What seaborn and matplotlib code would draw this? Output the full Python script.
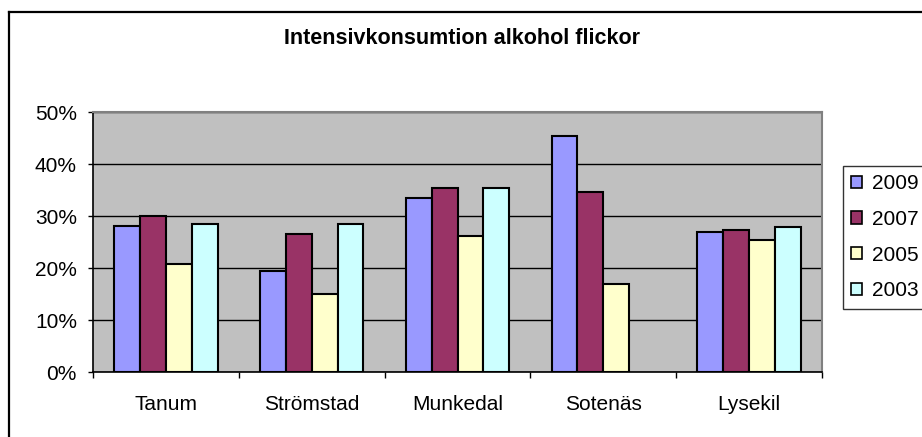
import numpy as np
import pandas as pd
import matplotlib
matplotlib.use("Agg")
import matplotlib.pyplot as plt
import seaborn as sns
from matplotlib.patches import Patch
from matplotlib.lines import Line2D
from matplotlib.ticker import FixedLocator, PercentFormatter

# ---- data ----
categories = ["Tanum", "Strömstad", "Munkedal", "Sotenäs", "Lysekil"]
years = ["2009", "2007", "2005", "2003"]
v2009 = [28.1, 19.5, 33.5, 45.4, 26.9]
v2007 = [30.0, 26.5, 35.4, 34.6, 27.3]
v2005 = [20.8, 15.0, 26.2, 17.0, 25.4]
v2003 = [28.5, 28.5, 35.4, np.nan, 27.8]
colors = ["#9999FF", "#993366", "#FFFFCC", "#CCFFFF"]
title = "Intensivkonsumtion alkohol flickor"
yticks = [0, 10, 20, 30, 40, 50]

series = {"2009": v2009, "2007": v2007, "2005": v2005, "2003": v2003}
rows = []
for yr in years:
    for cat, val in zip(categories, series[yr]):
        rows.append({"Kommun": cat, "År": yr, "Andel": val})
df = pd.DataFrame(rows).dropna()

plt.rcParams["font.family"] = ["Liberation Sans", "DejaVu Sans"]
FS = 15

W, H = 922, 437
fig = plt.figure(figsize=(W / 100, H / 100), dpi=100)
fig.patch.set_facecolor("white")

L, R, T, B = 93, 822, 112, 372
ax = fig.add_axes([L / W, 1 - B / H, (R - L) / W, (B - T) / H])
ax.set_facecolor("#C0C0C0")

sns.barplot(data=df, x="Kommun", y="Andel", hue="År", order=categories,
            hue_order=years, palette=colors, width=0.71, saturation=1,
            edgecolor="black", linewidth=1.5, errorbar=None, legend=False,
            ax=ax, zorder=3)

ax.set_ylim(0, 50)
ax.set_xlim(-0.5, len(categories) - 0.5)
ax.yaxis.set_major_locator(FixedLocator(yticks))
ax.yaxis.set_major_formatter(PercentFormatter(decimals=0))
ax.yaxis.grid(True, color="black", linewidth=1, zorder=1)
ax.set_axisbelow(True)
ax.set_xlabel("")
ax.set_ylabel("")

ax.tick_params(axis="y", direction="out", length=3.6, width=1, color="black",
               pad=8, labelsize=FS)
ax.tick_params(axis="x", which="major", length=0, pad=16.5, labelsize=FS)
ax.xaxis.set_minor_locator(FixedLocator(np.arange(-0.5, len(categories), 1.0)))
ax.tick_params(axis="x", which="minor", direction="out", length=4.3, width=1,
               color="black")

for side in ["left", "bottom"]:
    ax.spines[side].set_color("black")
    ax.spines[side].set_linewidth(1.2)
for side in ["top", "right"]:
    ax.spines[side].set_color("#808080")
    ax.spines[side].set_linewidth(1.5)

fig.text(462 / W, 1 - 38 / H, title, ha="center", va="center",
         fontsize=15.5, fontweight="bold")

handles = [Patch(facecolor=c, edgecolor="black", linewidth=1.2) for c in colors]
leg = fig.legend(handles, years, loc="upper left",
                 bbox_to_anchor=(843 / W, 1 - 166 / H), frameon=True,
                 fancybox=False, edgecolor="black", fontsize=FS,
                 handlelength=0.53, handleheight=0.53, handletextpad=0.48,
                 labelspacing=0.8, borderpad=0.4, borderaxespad=0)
leg.get_frame().set_linewidth(1.0)

# outer chart frame (extends beyond right and bottom edges)
fig.add_artist(Line2D([9 / W, 9 / W], [0, 1 - 12 / H], color="black",
                      linewidth=1.6, transform=fig.transFigure))
fig.add_artist(Line2D([9 / W, 1], [1 - 12 / H, 1 - 12 / H], color="black",
                      linewidth=1.6, transform=fig.transFigure))

fig.savefig("out.png", dpi=100)
